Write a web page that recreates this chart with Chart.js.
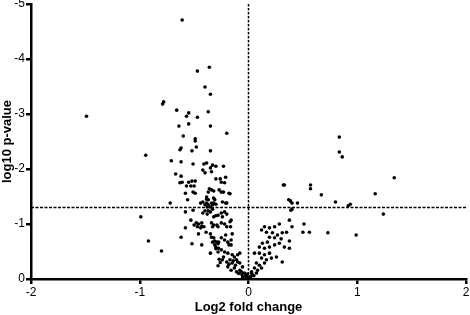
<!DOCTYPE html>
<html>
<head>
<meta charset="utf-8">
<script src="https://cdn.jsdelivr.net/npm/chart.js@4/dist/chart.umd.min.js"></script>
<style>
html,body{margin:0;padding:0;background:#fff;}
#wrap{width:470px;height:315px;position:relative;}
</style>
</head>
<body>
<div id="wrap"><canvas id="c" width="470" height="315"></canvas></div>
<script>
// Log2 fold change values
const foldChange = [
-1.49,-0.945,-0.99,-0.92,-0.80,-0.61,-0.47,-0.36,-0.40,-0.35,-0.79,-0.78,-0.66,-0.57,-0.55,-0.47,-0.37,-0.64,-0.55,-0.35,-0.20,-0.60,-0.49,-0.49,-0.48,-0.63,-0.62,-0.52,-0.35,
-0.71,-0.62,-0.51,-0.41,-0.385,-0.33,-0.30,-0.35,-0.42,-0.40,-0.34,-0.23,-0.67,-0.62,-0.61,-0.63,-0.55,-0.52,-0.49,-0.30,-0.26,-0.22,-0.57,-0.53,-0.50,-0.36,-0.37,-0.34,-0.32,-0.27,-0.25,-0.18,-0.58,-0.51,-0.49,-0.56,-0.385,-0.385,-0.37,-0.32,-0.31,-0.44,-0.42,-0.385,-0.34,-0.32,-0.40,-0.37,-0.33,-0.30,-0.20,-0.72,-0.51,-0.38,-0.35,-0.37,-0.33,
-0.21,-0.17,-0.24,-0.21,-0.25,-0.23,
-0.58,-0.42,-0.40,-0.38,-0.35,-0.32,-0.30,-0.28,-0.53,-0.48,-0.46,-0.43,-0.43,-0.50,-0.47,-0.44,-0.41,-0.34,-0.32,-0.33,-0.29,-0.28,-0.58,-0.39,-0.46,-0.35,-0.34,-0.32,-0.31,-0.33,-0.29,-0.275,-0.28,-0.31,-0.30,-0.275,-0.30,-0.28,-0.62,-0.52,-0.43,-0.35,-0.27,-0.28,
-0.25,-0.22,-0.20,-0.24,-0.17,-0.16,-0.25,-0.22,-0.20,-0.165,-0.21,-0.15,-0.25,-0.22,-0.19,-0.16,-0.18,-0.16,-0.25,-0.22,-0.19,-0.15,-0.13,-0.10,-0.08,-0.24,-0.20,-0.17,-0.15,-0.11,-0.10,-0.08,-0.055,-0.13,-0.16,-0.11,-0.08,-0.065,-0.037,-0.02,-0.055,0.01,
-0.03,0.02,-0.01,0.03,-0.06,0.05,-0.09,-0.12,-0.18,-0.23,-0.26,-0.14,-0.19,0.00,
0.284,0.24,0.193,0.147,0.12,0.165,0.22,0.266,0.31,0.35,0.193,0.24,0.30,0.174,0.128,0.10,0.147,0.193,0.24,0.284,0.33,0.055,0.10,0.147,0.193,0.12,0.165,0.21,0.257,0.31,0.073,0.10,0.147,0.055,0.083,0.12,0.028,0.037,0.073,0.01,-0.01,
0.835,0.835,0.862,1.34,1.165,1.24,0.99,0.73,0.80,0.936,0.917,0.67,0.57,0.57,0.33,0.45,0.385,0.40,0.39,0.51,0.50,0.56,0.376,0.40,0.376,0.376,0.32,0.37,0.40
];
// log10 p-values
const log10P = [
-2.96,-2.25,-1.13,-0.69,-0.51,-4.71,-3.78,-3.85,-3.49,-3.36,-3.18,-3.22,-3.07,-2.96,-3.02,-2.94,-3.04,-2.78,-2.82,-2.78,-2.65,-2.60,-2.55,-2.51,-2.40,-2.35,-2.38,-2.33,-2.33,
-2.15,-2.13,-2.09,-2.09,-2.11,-2.07,-2.05,-2.02,-1.98,-1.93,-1.95,-2.05,-1.91,-1.87,-1.76,-1.75,-1.76,-1.78,-1.78,-1.82,-1.82,-1.75,-1.69,-1.69,-1.69,-1.64,-1.58,-1.62,-1.60,-1.62,-1.58,-1.56,-1.56,-1.58,-1.56,-1.44,-1.49,-1.45,-1.44,-1.47,-1.44,-1.38,-1.40,-1.38,-1.38,-1.38,-1.35,-1.35,-1.35,-1.36,-1.38,-1.38,-1.25,-1.31,-1.31,-1.24,-1.27,
-1.85,-1.55,-1.40,-1.38,-1.76,-1.58,
-1.22,-1.20,-1.24,-1.18,-1.22,-1.13,-1.15,-1.16,-1.07,-1.02,-1.00,-0.96,-1.02,-0.98,-0.95,-0.93,-0.95,-1.02,-0.98,-0.95,-0.98,-0.95,-0.93,-0.85,-0.82,-0.82,-0.76,-0.75,-0.69,-0.67,-0.67,-0.67,-0.64,-0.62,-0.58,-0.56,-0.55,-0.49,-0.76,-0.64,-0.62,-0.47,-0.36,-0.24,
-1.20,-1.22,-1.18,-1.13,-1.04,-1.07,-1.02,-1.00,-0.95,-0.95,-0.80,-0.82,-0.75,-0.71,-0.67,-0.71,-0.62,-0.62,-0.53,-0.49,-0.47,-0.44,-0.40,-0.44,-0.47,-0.35,-0.31,-0.35,-0.29,-0.35,-0.31,-0.29,-0.22,-0.20,-0.16,-0.13,-0.16,-0.13,-0.11,-0.07,-0.04,-0.02,
-0.05,-0.04,-0.09,-0.10,-0.08,-0.06,-0.10,-0.25,-0.27,-0.40,-0.30,-0.33,-0.22,-0.01,
-1.00,-0.95,-0.93,-0.95,-0.89,-0.85,-0.84,-0.80,-0.84,-0.85,-0.76,-0.75,-0.73,-0.67,-0.65,-0.58,-0.56,-0.58,-0.62,-0.65,-0.58,-0.47,-0.47,-0.44,-0.47,-0.38,-0.35,-0.38,-0.40,-0.31,-0.29,-0.25,-0.29,-0.20,-0.16,-0.20,-0.13,-0.07,-0.11,-0.04,-0.02,
-2.58,-2.31,-2.22,-1.84,-1.55,-1.18,-0.80,-0.84,-1.40,-1.36,-1.33,-1.53,-1.71,-1.64,-1.71,-1.38,-1.42,-1.27,-1.25,-1.00,-0.85,-0.85,-1.07,-0.95,-0.69,-0.56,-1.71,-1.44,-1.38
];
const xTicks = [-2,-1,0,1,2];
const yTicks = [0,-1,-2,-3,-4,-5];
const pThreshold = -1.3;
const xTitle = "Log2 fold change";
const yTitle = "log10 p-value";

const points = foldChange.map((v,i)=>({x:v,y:log10P[i]}));
const font = "'Liberation Sans', Arial, Helvetica, sans-serif";

new Chart(document.getElementById('c'), {
  type: 'scatter',
  data: {
    datasets: [
      {data: points, backgroundColor:'#000', borderColor:'#000', pointRadius:1.8, pointBorderWidth:0, order:1},
      {type:'line', data:[{x:0,y:yTicks[yTicks.length-1]},{x:0,y:0}], borderColor:'#000', borderWidth:1.5, borderDash:[2.5,1.5], pointRadius:0, fill:false, order:2},
      {type:'line', data:[{x:xTicks[0],y:pThreshold},{x:xTicks[xTicks.length-1],y:pThreshold}], borderColor:'#000', borderWidth:1.5, borderDash:[3,1.5], pointRadius:0, fill:false, order:2}
    ]
  },
  options: {
    responsive:false, animation:false, devicePixelRatio:1,
    layout:{padding:{left:0,right:0,top:0,bottom:0}},
    plugins:{legend:{display:false}, tooltip:{enabled:false}},
    scales:{
      x:{
        type:'linear', min:-2, max:2,
        afterBuildTicks: s=>{ s.ticks = xTicks.map(v=>({value:v})); },
        grid:{display:true, drawOnChartArea:false, drawTicks:true, tickLength:5, lineWidth:2.5, color:'#000', tickColor:'#000', tickWidth:2.5},
        border:{display:true, color:'#000', width:2.5},
        ticks:{color:'#000', font:{family:font, size:12}, padding:1, maxRotation:0},
        title:{display:true, text:xTitle, color:'#000', font:{family:font, size:13, weight:'bold'}, padding:{top:0,bottom:0}},
        afterFit: s=>{ s.height = 36; s.paddingRight = 2; }
      },
      y:{
        type:'linear', min:-5, max:0, reverse:true,
        afterBuildTicks: s=>{ s.ticks = yTicks.map(v=>({value:v})); },
        grid:{display:true, drawOnChartArea:false, drawTicks:true, tickLength:5, lineWidth:2.5, color:'#000', tickColor:'#000', tickWidth:2.5},
        border:{display:true, color:'#000', width:2.5},
        ticks:{color:'#000', font:{family:font, size:12}, padding:1},
        title:{display:true, text:yTitle, color:'#000', font:{family:font, size:13, weight:'bold'}, padding:{top:0,bottom:0}},
        afterFit: s=>{ s.width = 31; s.paddingTop = 4; s.paddingBottom = 0; }
      }
    }
  }
});
</script>
</body>
</html>
